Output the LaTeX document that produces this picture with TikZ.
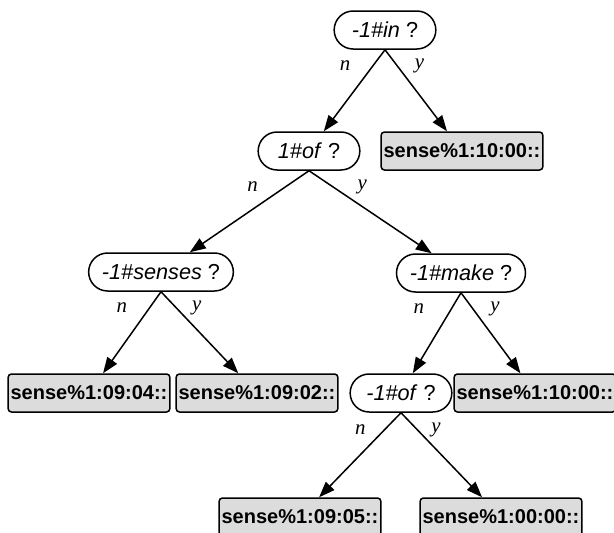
\documentclass[tikz,border=0pt]{standalone}
\usepackage{fontspec}
\setsansfont{Liberation Sans}
\newfontfamily\lblfont{Liberation Serif}
\usepackage{xcolor}
\usepackage{tikz}
\usetikzlibrary{arrows.meta,positioning,shapes}
\definecolor{colorLeaf}{RGB}{220,220,220}

\begin{document}
\begin{tikzpicture}[x=0.6pt,y=-0.6pt,
  qnode/.style={draw,line width=0.9pt,rounded corners=11.4pt,minimum width=61pt,minimum height=22.8pt,inner xsep=8pt,font=\sffamily\fontsize{13}{15}\selectfont},
  leaf/.style={draw,line width=0.9pt,rounded corners=2pt,fill=colorLeaf,minimum width=95pt,minimum height=22.8pt,inner xsep=1.5pt,font=\sffamily\bfseries\fontsize{12}{14}\selectfont},
  edge/.style={-{Triangle[length=9.5pt,width=7pt]},line width=0.9pt},
  lbl/.style={font=\lblfont\itshape\fontsize{12.5}{14}\selectfont,inner sep=0pt}]
  \useasboundingbox (0,0) rectangle (614,533);
  % decision nodes
  \node[qnode] (in) at (385,30) {\textit{-1\#in} ?};
  \node[qnode] (of1) at (309,151) {\textit{1\#of} ?};
  \node[qnode] (senses) at (161,272) {\textit{-1\#senses} ?};
  \node[qnode] (make) at (461,273) {\textit{-1\#make} ?};
  \node[qnode] (of2) at (401,393) {\textit{-1\#of} ?};
  % leaves
  \node[leaf] (l1000a) at (462,151) {sense\%1:10:00::};
  \node[leaf] (l0904) at (89,393) {sense\%1:09:04::};
  \node[leaf] (l0902) at (257,393) {sense\%1:09:02::};
  \node[leaf] (l1000b) at (535,393) {sense\%1:10:00::};
  \node[leaf] (l0905) at (300,517) {sense\%1:09:05::};
  \node[leaf] (l0000) at (501,517) {sense\%1:00:00::};
  % edges
  \draw[edge] (in.south) -- node[lbl,pos=0.2,left=13pt] (in-n) {n} (of1);
  \draw[edge] (in.south) -- node[lbl,pos=0.2,right=10pt] (in-y) {y} (l1000a);
  \draw[edge] (of1.south) -- node[lbl,pos=0.2,left=16pt] (of1-n) {n} (senses);
  \draw[edge] (of1.south) -- node[lbl,pos=0.2,right=14pt] (of1-y) {y} (make);
  \draw[edge] (senses.south) -- node[lbl,pos=0.2,left=13pt] (senses-n) {n} (l0904);
  \draw[edge] (senses.south) -- node[lbl,pos=0.2,right=9pt] (senses-y) {y} (l0902);
  \draw[edge] (make.south) -- node[lbl,pos=0.2,left=16pt] (make-n) {n} (of2);
  \draw[edge] (make.south) -- node[lbl,pos=0.2,right=10pt] (make-y) {y} (l1000b);
  \draw[edge] (of2.south) -- node[lbl,pos=0.2,left=11pt] (of2-n) {n} (l0905);
  \draw[edge] (of2.south) -- node[lbl,pos=0.2,right=8pt] (of2-y) {y} (l0000);
\end{tikzpicture}
\end{document}
